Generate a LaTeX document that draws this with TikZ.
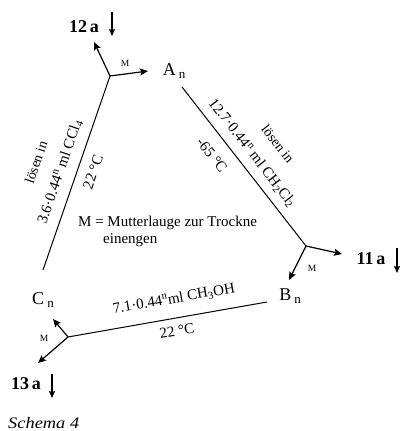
\documentclass[tikz,border=0pt]{standalone}
\usepackage{fontspec}
\setmainfont{Liberation Serif}
\usetikzlibrary{arrows.meta}
\newcommand{\lowidx}[1]{\,\raisebox{-0.3ex}{\fontsize{13}{14}\selectfont #1}}
\begin{document}
\begin{tikzpicture}[x=1pt,y=-1pt,
  conn/.style={line width=1pt},
  arr/.style={line width=1.2pt,-{Stealth[length=8pt,width=7pt,inset=1.5pt]}},
  darr/.style={line width=1.2pt,-{Stealth[length=7pt,width=6pt,inset=1pt]}},
  cmp/.style={font=\fontsize{18}{20}\selectfont,inner sep=0pt},
  prod/.style={font=\fontsize{18}{20}\selectfont\bfseries,inner sep=0pt},
  mlab/.style={font=\fontsize{9.5}{10}\selectfont,inner sep=0pt},
  lab/.style={font=\fontsize{15}{17}\selectfont,inner sep=0pt},
  slab/.style={font=\fontsize{14}{16}\selectfont,inner sep=0pt},
  note/.style={font=\fontsize{15}{17}\selectfont,inner sep=0pt,anchor=west}]
\useasboundingbox (0,0) rectangle (402,431);
% compounds
\node[cmp] (An) at (174,71) {A\lowidx{n}};
\node[cmp] (Bn) at (290,296) {B\lowidx{n}};
\node[cmp] (Cn) at (43,300) {C\lowidx{n}};
% junctions
\coordinate (J1) at (110,76);
\coordinate (J2) at (306,246);
\coordinate (J3) at (68,337);
% line ends
\coordinate (a1) at (182,87);
\coordinate (b1) at (267,302);
\coordinate (c1) at (43,270);
% products
\node[prod] (p12) at (84,27) {12\,a};
\node[prod] (p11) at (371,259) {11\,a};
\node[prod] (p13) at (26,384) {13\,a};
\coordinate (t12) at (94,42);
\coordinate (t11) at (342,254);
\coordinate (t13) at (38,363);
\coordinate (tA) at (148,71);
\coordinate (tB) at (289,280);
\coordinate (tC) at (53,319);
% down arrows
\coordinate (d12s) at (112,12); \coordinate (d12e) at (112,36);
\coordinate (d11s) at (397,248); \coordinate (d11e) at (397,273);
\coordinate (d13s) at (52,374); \coordinate (d13e) at (52,398);
\draw[darr] (d12s) -- (d12e);
\draw[darr] (d11s) -- (d11e);
\draw[darr] (d13s) -- (d13e);
% main lines
\draw[conn] (J1) -- (c1);
\draw[conn] (a1) -- (J2);
\draw[conn] (b1) -- (J3);
% junction arrows
\draw[arr] (J1) -- (t12);
\draw[arr] (J1) -- (tA);
\draw[arr] (J2) -- (t11);
\draw[arr] (J2) -- (tB);
\draw[arr] (J3) -- (tC);
\draw[arr] (J3) -- (t13);
% M labels
\node[mlab] (m1) at (125,63) {M};
\node[mlab] (m2) at (312,268) {M};
\node[mlab] (m3) at (44,338) {M};
% line labels
\node[slab,rotate=71] (l1) at (36,162) {lösen in};
\node[lab,rotate=71] (l2) at (60,172) {3.6·0.44\textsuperscript{n} ml CCl\textsubscript{4}};
\node[lab,rotate=71] (l3) at (93,172) {22 °C};
\node[slab,rotate=-52] (l4) at (278,144) {lösen in};
\node[lab,rotate=-52] (l5) at (252,153) {12.7·0.44\textsuperscript{n} ml CH\textsubscript{2}Cl\textsubscript{2}};
\node[lab,rotate=-52] (l6) at (212,155) {-65 °C};
\node[lab,rotate=10] (l7) at (174,299) {7.1·0.44\textsuperscript{n}ml CH\textsubscript{3}OH};
\node[lab,rotate=10] (l8) at (177,331) {22 °C};
% note
\node[note] (n1) at (78,223) {M = Mutterlauge zur Trockne};
\node[note] (n2) at (103,240) {einengen};
% caption
\node[font=\fontsize{16}{18}\selectfont\itshape,inner sep=0pt,anchor=west] (cap) at (8,423) {\scalebox{1.15}[1]{Schema 4}};
\end{tikzpicture}
\end{document}
